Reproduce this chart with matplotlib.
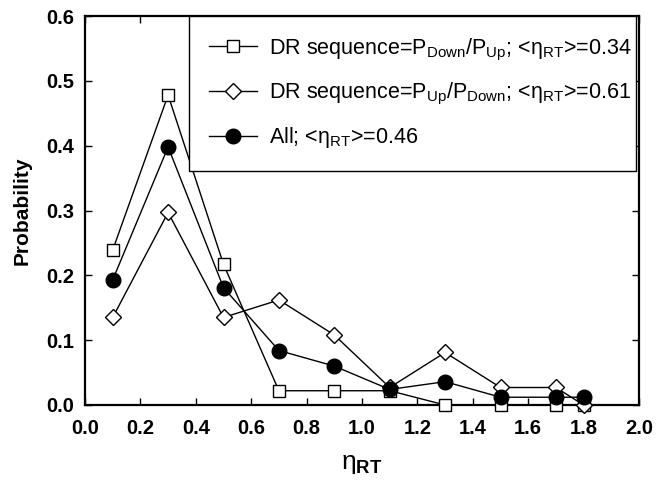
import matplotlib
matplotlib.use("Agg")
import matplotlib.pyplot as plt

plt.rcParams['font.family'] = ['Liberation Sans', 'DejaVu Sans']
plt.rcParams['mathtext.fontset'] = 'custom'
plt.rcParams['mathtext.rm'] = 'Liberation Sans'
plt.rcParams['mathtext.it'] = 'Liberation Sans:italic'
plt.rcParams['mathtext.bf'] = 'Liberation Sans:bold'

# data
x_vals = [0.1, 0.3, 0.5, 0.7, 0.9, 1.1, 1.3, 1.5, 1.7, 1.8]
down_up = [0.239, 0.478, 0.217, 0.022, 0.022, 0.022, 0.0, 0.0, 0.0, 0.0]
up_down = [0.135, 0.297, 0.135, 0.162, 0.108, 0.027, 0.081, 0.027, 0.027, 0.0]
all_vals = [0.193, 0.398, 0.181, 0.084, 0.060, 0.024, 0.036, 0.012, 0.012, 0.012]

labels = [r'DR sequence=P$_{\rm Down}$/P$_{\rm Up}$; <η$_{\rm RT}$>=0.34',
          r'DR sequence=P$_{\rm Up}$/P$_{\rm Down}$; <η$_{\rm RT}$>=0.61',
          r'All; <η$_{\rm RT}$>=0.46']
x_ticks = [0.0, 0.2, 0.4, 0.6, 0.8, 1.0, 1.2, 1.4, 1.6, 1.8, 2.0]
y_ticks = [0.0, 0.1, 0.2, 0.3, 0.4, 0.5, 0.6]

fig = plt.figure(figsize=(6.56, 4.83), dpi=100)
ax = fig.add_axes([85/656, 1-405/483, 554/656, 389/483])

ax.plot(x_vals, down_up, color='black', lw=1, marker='s', ms=9,
        mfc='white', mec='black', mew=1, clip_on=False, zorder=3, label=labels[0])
ax.plot(x_vals, up_down, color='black', lw=1, marker='D', ms=8.5,
        mfc='white', mec='black', mew=1, clip_on=False, zorder=4, label=labels[1])
ax.plot(x_vals, all_vals, color='black', lw=1, marker='o', ms=10.5,
        mfc='black', mec='black', mew=1, clip_on=False, zorder=5, label=labels[2])

ax.set_xlim(0, 2.0)
ax.set_ylim(0, 0.6)
ax.set_xticks(x_ticks)
ax.set_yticks(y_ticks)
ax.set_xticklabels([f'{t:.1f}' for t in x_ticks], fontweight='bold', fontsize=14.5)
ax.set_yticklabels([f'{t:.1f}' for t in y_ticks], fontweight='bold', fontsize=14.5)
ax.tick_params(direction='in', length=5, width=1, top=True, right=True)
ax.tick_params(axis='x', pad=10)
ax.tick_params(axis='y', pad=8)
for s in ax.spines.values():
    s.set_linewidth(1.6)

ax.set_ylabel('Probability', fontweight='bold', fontsize=15, labelpad=10)
ax.set_xlabel(r'η$_{\mathbf{RT}}$', fontsize=19, labelpad=10)

leg = ax.legend(loc='upper left',
                bbox_to_anchor=((189-85)/554, 1.0, (636-189)/554, 0.0),
                mode='expand', borderaxespad=0, fancybox=False, framealpha=1,
                edgecolor='black', fontsize=15.5, handlelength=2.2,
                handletextpad=0.55, borderpad=0.95, labelspacing=0.85)
leg.get_frame().set_linewidth(1)

fig.savefig('out.png', dpi=100)
